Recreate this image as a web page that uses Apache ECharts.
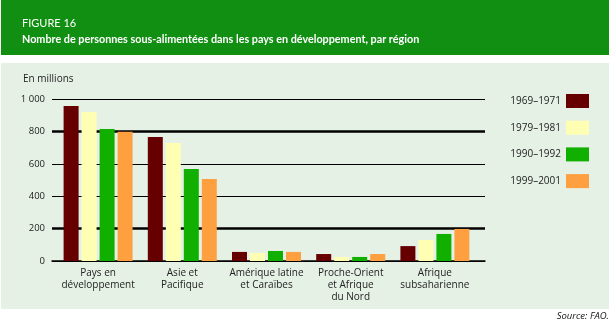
<!DOCTYPE html>
<html><head><meta charset="utf-8">
<script src="https://cdn.jsdelivr.net/npm/echarts@6/dist/echarts.min.js"></script>
<style>html,body{margin:0;padding:0;background:#fff}#c{width:611px;height:325px}</style>
</head><body><div id="c"></div>
<script>
const categories = ['Pays en\ndéveloppement', 'Asie et\nPacifique', 'Amérique latine\net Caraïbes', 'Proche-Orient\net Afrique\ndu Nord', 'Afrique\nsubsaharienne'];
const periods = ['1969–1971', '1979–1981', '1990–1992', '1999–2001'];
const v1969 = [957, 765, 56, 43, 92];
const v1979 = [920, 728, 49, 25, 130];
const v1990 = [815, 568, 62, 25, 167];
const v1999 = [798, 506, 56, 43, 198];
const yTicks = [0, 200, 400, 600, 800, 1000];

const colors = ['#660000', '#ffffb3', '#11b000', '#ffa040'];
const seriesValues = [v1969, v1979, v1990, v1999];
const FONT = 'Open Sans';

const chart = echarts.init(document.getElementById('c'), null, {renderer: 'canvas'});
const series = periods.map((p, i) => ({
  name: p, type: 'bar', xAxisIndex: 1, yAxisIndex: 1, z: 5,
  data: seriesValues[i], barWidth: 15, barGap: '20%',
  itemStyle: {color: colors[i]}, animation: false
}));
series.push({
  name: 'thick', type: 'line', xAxisIndex: 0, yAxisIndex: 0, data: [], z: 1,
  markLine: {symbol: 'none', silent: true, label: {show: false}, z: 1,
    lineStyle: {color: '#000', width: 2.5, type: 'solid'},
    data: [{yAxis: 800}, {yAxis: 200}]},
  animation: false
});

chart.setOption({
  backgroundColor: '#fff',
  animation: false,
  graphic: [
    {type: 'rect', shape: {x: 1, y: 0, width: 608, height: 55}, style: {fill: '#118f12'}, z: -10},
    {type: 'rect', shape: {x: 1, y: 63, width: 608, height: 246}, style: {fill: '#e6f1e6'}, z: -10},
    {type: 'text', left: 22, top: 18, style: {text: 'FIGURE 16', fill: '#fff', font: '11px Lato'}},
    {type: 'text', left: 22, top: 34, style: {text: 'Nombre de personnes sous-alimentées dans les pays en développement, par région', fill: '#fff', font: 'bold 10.8px Lato'}},
    {type: 'text', left: 23, top: 74, style: {text: 'En millions', fill: '#222', font: '10px "' + FONT + '"'}},
    {type: 'text', right: 2, top: 311, style: {text: 'Source: FAO.', fill: '#111', font: 'italic 9.5px "' + FONT + '"'}}
  ],
  legend: {
    data: periods, orient: 'vertical', right: 17, top: 89, align: 'right',
    itemWidth: 23, itemHeight: 14, itemGap: 12.7, icon: 'rect',
    textStyle: {fontFamily: FONT, fontSize: 10, color: '#222'}
  },
  grid: [
    {left: 52, top: 99, width: 433, height: 162},
    {left: 56, top: 99, width: 421, height: 162}
  ],
  xAxis: [
    {type: 'category', gridIndex: 0, data: ['a'], axisLine: {show: true, lineStyle: {color: '#000', width: 1.5}}, axisTick: {show: false}, axisLabel: {show: false}},
    {type: 'category', gridIndex: 1, data: categories, axisLine: {show: false}, axisTick: {show: false},
      axisLabel: {interval: 0, margin: 6, color: '#222', fontFamily: FONT, fontSize: 10, lineHeight: 12}}
  ],
  yAxis: [
    {type: 'value', gridIndex: 0, min: yTicks[0], max: yTicks[yTicks.length - 1], interval: 200,
      axisLine: {show: false}, axisTick: {show: false},
      axisLabel: {margin: 7, color: '#222', fontFamily: FONT, fontSize: 9.5,
        formatter: v => String(v).replace(/\B(?=(\d{3})+(?!\d))/g, ' ')},
      splitLine: {lineStyle: {color: '#000', width: 1.2}}},
    {type: 'value', gridIndex: 1, min: 0, max: 1000, interval: 200, show: false, splitLine: {show: false}}
  ],
  series: series
});
</script></body></html>
